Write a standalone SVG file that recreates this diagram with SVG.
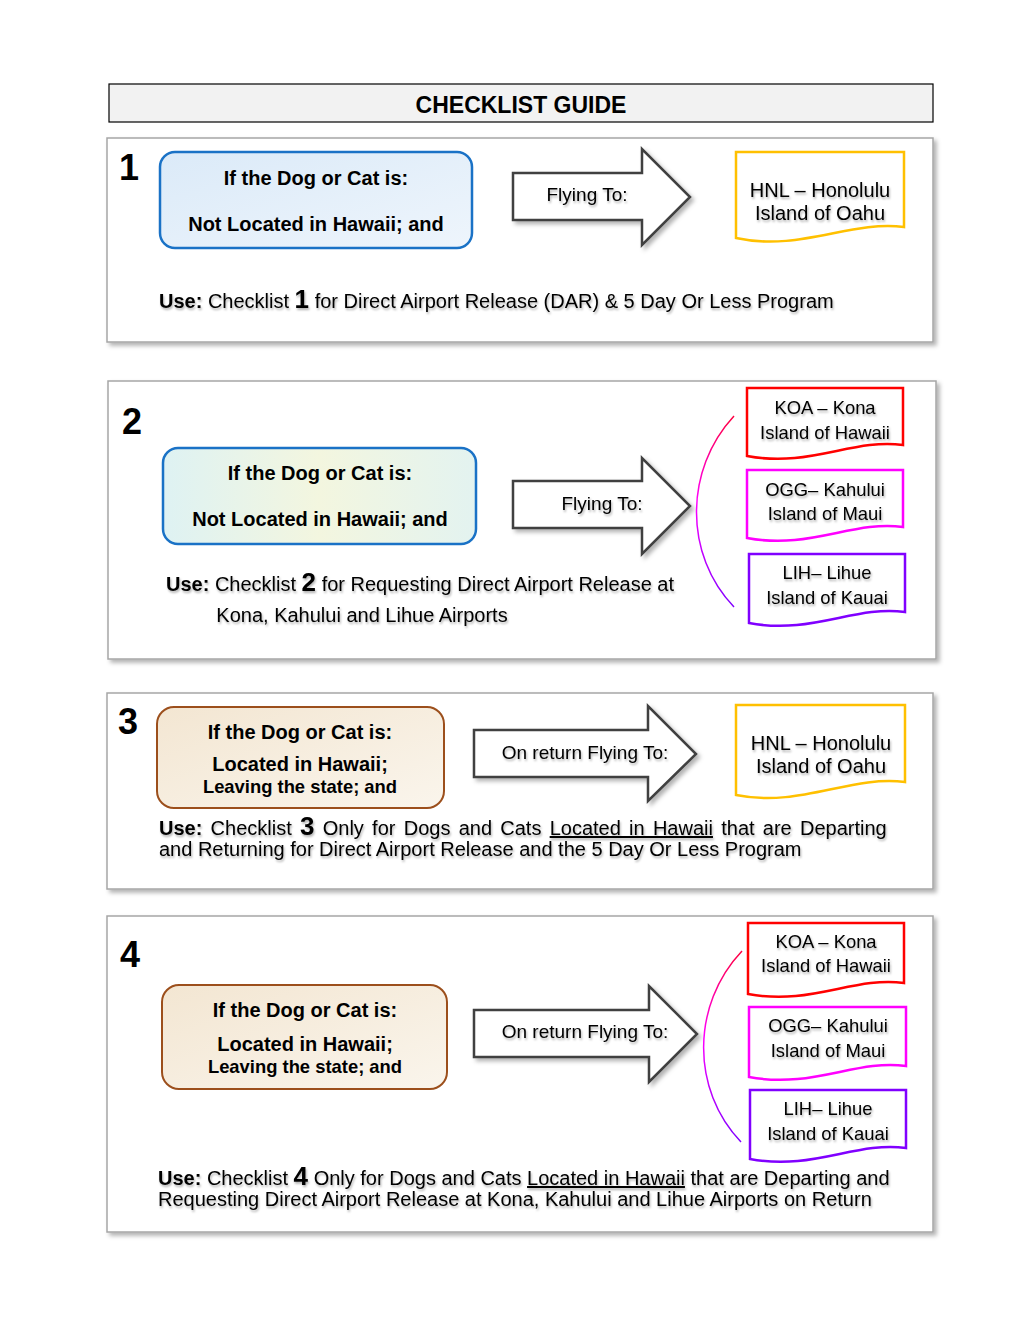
<svg xmlns="http://www.w3.org/2000/svg" width="1020" height="1320" viewBox="0 0 1020 1320">
<defs>
<filter id="ps" x="-5%" y="-5%" width="115%" height="115%"><feDropShadow dx="3" dy="3" stdDeviation="2" flood-color="#000" flood-opacity="0.3"/></filter>
<filter id="ts" x="-5%" y="-30%" width="115%" height="180%"><feDropShadow dx="1" dy="2" stdDeviation="1.2" flood-color="#000" flood-opacity="0.3"/></filter>
<linearGradient id="blue" x1="0" y1="0" x2="1" y2="1"><stop offset="0" stop-color="#dbeaf8"/><stop offset="1" stop-color="#eef5fc"/></linearGradient>
<linearGradient id="blue2" x1="0" y1="0" x2="1" y2="0"><stop offset="0" stop-color="#def2f3"/><stop offset="0.5" stop-color="#f3f6df"/><stop offset="1" stop-color="#e3f3f0"/></linearGradient>
<linearGradient id="tan" x1="0" y1="0" x2="1" y2="1"><stop offset="0" stop-color="#f3e6d2"/><stop offset="1" stop-color="#faf5ec"/></linearGradient>
<linearGradient id="arc" x1="0" y1="0" x2="0" y2="1"><stop offset="0" stop-color="#ff0040"/><stop offset="0.45" stop-color="#ff00ff"/><stop offset="1" stop-color="#8000ff"/></linearGradient>
</defs>
<style>
text{font-family:"Liberation Sans",Arial,sans-serif;fill:#000}
.panel{fill:#fff;stroke:#a6a6a6;stroke-width:1.5}
.num{font-size:36px;font-weight:bold}
.bx{font-size:20px;font-weight:bold;text-anchor:middle}
.bxs{font-size:18.4px;font-weight:bold;text-anchor:middle}
.blue{stroke:#1a72c6;stroke-width:2.5}
.tan{fill:url(#tan);stroke:#9c4f1c;stroke-width:2}
.arrow{fill:#fff;stroke:#404040;stroke-width:2.5;stroke-linejoin:miter}
.at{font-size:19px;text-anchor:middle}
.doc{fill:#fff;stroke-width:2.5}
.dt{font-size:20px;text-anchor:middle}
.ds{font-size:18.4px;text-anchor:middle}
.use{font-size:20px}
.b{font-weight:bold}
.big{font-size:26px;font-weight:bold}
.arcl{fill:none;stroke:url(#arc);stroke-width:1.5}
</style>

<g id="title">
<rect x="109" y="84" width="824" height="38" fill="#f2f2f2" stroke="#000" stroke-width="1.2"/>
<text x="521" y="113" text-anchor="middle" font-size="23" font-weight="bold">CHECKLIST GUIDE</text>
</g>

<!-- Panel 1 -->
<g id="panel1">
<rect class="panel" x="107" y="138" width="826" height="204" filter="url(#ps)"/>
<text class="num" x="119" y="180">1</text>
</g>
<g id="p1-cond">
<rect class="blue" fill="url(#blue)" x="160" y="152" width="312" height="96" rx="15"/>
<text class="bx" x="316" y="185">If the Dog or Cat is:</text>
<text class="bx" x="316" y="231">Not Located in Hawaii; and</text>
</g>
<g id="p1-arrow">
<path class="arrow" filter="url(#ps)" d="M513,173 H642 V149 L690,197 L642,245 V220 H513 Z"/>
<text class="at" x="587" y="201" filter="url(#ts)">Flying To:</text>
</g>
<g id="p1-hnl">
<path class="doc" stroke="#ffc000" d="M736,152 H904 V227 C850,220 800,252 736,238 Z"/>
<g filter="url(#ts)">
<text class="dt" x="820" y="197">HNL – Honolulu</text>
<text class="dt" x="820" y="220">Island of Oahu</text>
</g>
</g>
<g id="p1-use" filter="url(#ts)">
<text class="use" x="159" y="308"><tspan class="b">Use:</tspan> Checklist <tspan class="big">1</tspan> for Direct Airport Release (DAR) &amp; 5 Day Or Less Program</text>
</g>

<!-- Panel 2 -->
<g id="panel2">
<rect class="panel" x="108" y="381" width="828" height="278" filter="url(#ps)"/>
<text class="num" x="122" y="434">2</text>
</g>
<g id="p2-cond">
<rect class="blue" fill="url(#blue2)" x="163" y="448" width="313" height="96" rx="15"/>
<text class="bx" x="320" y="480">If the Dog or Cat is:</text>
<text class="bx" x="320" y="526">Not Located in Hawaii; and</text>
</g>
<g id="p2-arrow">
<path class="arrow" filter="url(#ps)" d="M513,481 H642 V458 L690,506 L642,554 V528 H513 Z"/>
<text class="at" x="602" y="510" filter="url(#ts)">Flying To:</text>
</g>
<g id="p2-koa">
<path class="doc" stroke="#ff0000" d="M747,388 H903 V445 C853,438 810,468 747,456 Z"/>
<g filter="url(#ts)">
<text class="ds" x="825" y="414">KOA – Kona</text>
<text class="ds" x="825" y="439">Island of Hawaii</text>
</g>
</g>
<g id="p2-ogg">
<path class="doc" stroke="#ff00ff" d="M747,470 H903 V527 C853,520 810,550 747,538 Z"/>
<g filter="url(#ts)">
<text class="ds" x="825" y="496">OGG– Kahului</text>
<text class="ds" x="825" y="520">Island of Maui</text>
</g>
</g>
<g id="p2-lih">
<path class="doc" stroke="#8000ff" d="M749,554 H905 V612 C855,605 812,635 749,623 Z"/>
<g filter="url(#ts)">
<text class="ds" x="827" y="579">LIH– Lihue</text>
<text class="ds" x="827" y="604">Island of Kauai</text>
</g>
</g>
<g id="p2-use" filter="url(#ts)">
<text class="use" x="166" y="591"><tspan class="b">Use:</tspan> Checklist <tspan class="big">2</tspan> for Requesting Direct Airport Release at</text>
<text class="use" x="362" y="622" text-anchor="middle">Kona, Kahului and Lihue Airports</text>
</g>

<!-- Panel 3 -->
<g id="panel3">
<rect class="panel" x="107" y="693" width="826" height="196" filter="url(#ps)"/>
<text class="num" x="118" y="734">3</text>
</g>
<g id="p3-cond">
<rect class="tan" x="157" y="707" width="287" height="101" rx="17"/>
<text class="bx" x="300" y="739">If the Dog or Cat is:</text>
<text class="bx" x="300" y="771">Located in Hawaii;</text>
<text class="bxs" x="300" y="793">Leaving the state; and</text>
</g>
<g id="p3-arrow">
<path class="arrow" filter="url(#ps)" d="M474,730 H648 V706 L696,754 L648,801 V777 H474 Z"/>
<text class="at" x="585" y="759" filter="url(#ts)">On return Flying To:</text>
</g>
<g id="p3-hnl">
<path class="doc" stroke="#ffc000" d="M736,705 H905 V782 C850,775 800,808 736,795 Z"/>
<g filter="url(#ts)">
<text class="dt" x="821" y="750">HNL – Honolulu</text>
<text class="dt" x="821" y="773">Island of Oahu</text>
</g>
</g>
<g id="p3-use" filter="url(#ts)">
<text class="use" x="159" y="835" word-spacing="2.7"><tspan class="b">Use:</tspan> Checklist <tspan class="big">3</tspan> Only for Dogs and Cats <tspan text-decoration="underline">Located in Hawaii</tspan> that are Departing</text>
<text class="use" x="159" y="856">and Returning for Direct Airport Release and the 5 Day Or Less Program</text>
</g>

<!-- Panel 4 -->
<g id="panel4">
<rect class="panel" x="107" y="916" width="826" height="316" filter="url(#ps)"/>
<text class="num" x="120" y="967">4</text>
</g>
<g id="p4-cond">
<rect class="tan" x="162" y="985" width="285" height="104" rx="17"/>
<text class="bx" x="305" y="1017">If the Dog or Cat is:</text>
<text class="bx" x="305" y="1051">Located in Hawaii;</text>
<text class="bxs" x="305" y="1073">Leaving the state; and</text>
</g>
<g id="p4-arrow">
<path class="arrow" filter="url(#ps)" d="M474,1010 H649 V986 L697,1034 L649,1082 V1057 H474 Z"/>
<text class="at" x="585" y="1038" filter="url(#ts)">On return Flying To:</text>
</g>
<g id="p4-koa">
<path class="doc" stroke="#ff0000" d="M748,923 H904 V983 C854,976 811,1006 748,994 Z"/>
<g filter="url(#ts)">
<text class="ds" x="826" y="948">KOA – Kona</text>
<text class="ds" x="826" y="972">Island of Hawaii</text>
</g>
</g>
<g id="p4-ogg">
<path class="doc" stroke="#ff00ff" d="M749,1007 H906 V1066 C856,1059 813,1089 749,1077 Z"/>
<g filter="url(#ts)">
<text class="ds" x="828" y="1032">OGG– Kahului</text>
<text class="ds" x="828" y="1057">Island of Maui</text>
</g>
</g>
<g id="p4-lih">
<path class="doc" stroke="#8000ff" d="M750,1090 H906 V1148 C856,1141 813,1171 750,1159 Z"/>
<g filter="url(#ts)">
<text class="ds" x="828" y="1115">LIH– Lihue</text>
<text class="ds" x="828" y="1140">Island of Kauai</text>
</g>
</g>
<g id="p4-use" filter="url(#ts)">
<text class="use" x="158" y="1185"><tspan class="b">Use:</tspan> Checklist <tspan class="big">4</tspan> Only for Dogs and Cats <tspan text-decoration="underline">Located in Hawaii</tspan> that are Departing and</text>
<text class="use" x="158" y="1206">Requesting Direct Airport Release at Kona, Kahului and Lihue Airports on Return</text>
</g>

<g id="connectors">
<path class="arcl" d="M734,416 C684,470 684,555 734,607"/>
<path class="arcl" d="M742,951 C691,1005 691,1090 741,1142"/>
</g>
</svg>
